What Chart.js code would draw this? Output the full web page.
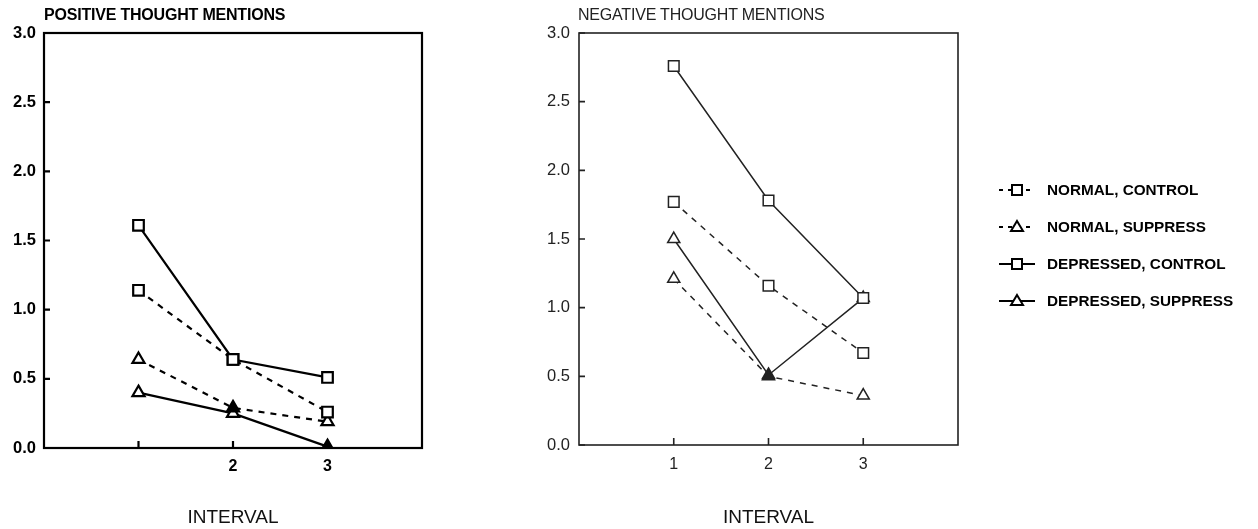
<!DOCTYPE html>
<html>
<head>
<meta charset="utf-8">
<script src="https://cdn.jsdelivr.net/npm/chart.js@4/dist/chart.umd.min.js"></script>
<style>
  body { margin: 0; background: #fff; width: 1258px; height: 529px; overflow: hidden; position: relative; font-family: "Liberation Sans", Arial, sans-serif; }
  canvas { position: absolute; top: 0; }
  .title { position: absolute; top: 6px; font-size: 16px; letter-spacing: -0.2px; }
  #legend { position: absolute; left: 995px; top: 171px; }
  .row { height: 37px; display: flex; align-items: center; font-weight: bold; font-size: 15.3px; }
  .row canvas { position: static; margin-right: 8px; }
</style>
</head>
<body>
<canvas id="chartPositive" width="500" height="529" style="left:0"></canvas>
<canvas id="chartNegative" width="480" height="529" style="left:500px"></canvas>
<div class="title" style="left:44px;font-weight:bold">POSITIVE THOUGHT MENTIONS</div>
<div class="title" style="left:578px;color:#222">NEGATIVE THOUGHT MENTIONS</div>
<div id="legend"></div>

<script>
// интервалы и значения по оси Y
const intervals = [1, 2, 3];
const xTickLabelsPositive = ['', '2', '3'];
const xTickLabelsNegative = ['1', '2', '3'];
const yTicks = [0, 0.5, 1, 1.5, 2, 2.5, 3];

const seriesNames = ['NORMAL, CONTROL', 'NORMAL, SUPPRESS', 'DEPRESSED, CONTROL', 'DEPRESSED, SUPPRESS'];

// POSITIVE THOUGHT MENTIONS
const posNormalControl = [1.14, 0.64, 0.26];
const posNormalSuppress = [0.64, 0.29, 0.19];
const posDepressedControl = [1.61, 0.64, 0.51];
const posDepressedSuppress = [0.40, 0.25, 0.01];

// NEGATIVE THOUGHT MENTIONS
const negNormalControl = [1.77, 1.16, 0.67];
const negNormalSuppress = [1.21, 0.50, 0.36];
const negDepressedControl = [2.76, 1.78, 1.07];
const negDepressedSuppress = [1.50, 0.51, 1.07];

// рамка и внутренние засечки
const framePlugin = {
    id: 'frame',
    afterDraw(chart, args, opts) {
        const ctx = chart.ctx;
        const a = chart.chartArea;
        const xs = chart.scales.x;
        const ys = chart.scales.y;
        ctx.save();
        ctx.strokeStyle = opts.color;
        ctx.lineWidth = opts.width;
        ctx.strokeRect(a.left, a.top, a.right - a.left, a.bottom - a.top);
        ctx.beginPath();
        yTicks.forEach(v => {
            const py = ys.getPixelForValue(v);
            ctx.moveTo(a.left, py);
            ctx.lineTo(a.left + 6, py);
        });
        intervals.forEach(v => {
            const px = xs.getPixelForValue(v);
            ctx.moveTo(px, a.bottom);
            ctx.lineTo(px, a.bottom - 7);
        });
        ctx.stroke();
        ctx.restore();
    }
};

function makeDataset(values, dashed, triangle, lineWidth, color, fills) {
    return {
        data: intervals.map((x, i) => ({ x: x, y: values[i] })),
        borderColor: color,
        borderWidth: lineWidth,
        borderDash: dashed ? [6, 6] : [],
        pointStyle: triangle ? 'triangle' : 'rect',
        pointRadius: triangle ? 7 : 7.5,
        pointBorderWidth: lineWidth,
        pointBorderColor: color,
        pointBackgroundColor: fills || '#fff',
        tension: 0
    };
}

function makeChart(id, datasets, cfg) {
    return new Chart(document.getElementById(id), {
        type: 'line',
        data: { datasets: datasets },
        plugins: [framePlugin],
        options: {
            responsive: false,
            animation: false,
            layout: { padding: { left: 0, right: cfg.padRight, top: 33, bottom: 0 } },
            plugins: {
                legend: { display: false },
                tooltip: { enabled: false },
                frame: { color: cfg.color, width: cfg.frameWidth }
            },
            scales: {
                x: {
                    type: 'linear', min: 0, max: 4,
                    afterBuildTicks: s => { s.ticks = intervals.map(v => ({ value: v })); },
                    afterFit: s => { s.height = cfg.xHeight; },
                    grid: { display: false, drawTicks: false },
                    border: { display: false },
                    ticks: {
                        padding: cfg.xPad,
                        color: cfg.color,
                        font: { size: 16, weight: cfg.weight, family: 'Liberation Sans' },
                        callback: (v, i) => cfg.xLabels[intervals.indexOf(v)]
                    },
                    title: {
                        display: true, text: 'INTERVAL', color: '#111',
                        font: { size: 19, family: 'Liberation Sans' },
                        padding: { top: 0, bottom: 0 }
                    }
                },
                y: {
                    min: 0, max: 3,
                    afterBuildTicks: s => { s.ticks = yTicks.map(v => ({ value: v })); },
                    afterFit: s => { s.width = cfg.yWidth; },
                    grid: { display: false, drawTicks: false },
                    border: { display: false },
                    ticks: {
                        padding: cfg.yPad,
                        color: cfg.color,
                        font: { size: 16.5, weight: cfg.weight, family: 'Liberation Sans' },
                        callback: v => v.toFixed(1)
                    }
                }
            }
        }
    });
}

makeChart('chartPositive', [
    makeDataset(posNormalControl, true, false, 2.2, '#000'),
    makeDataset(posNormalSuppress, true, true, 2.2, '#000', ['#fff', '#000', '#fff']),
    makeDataset(posDepressedControl, false, false, 2.2, '#000'),
    makeDataset(posDepressedSuppress, false, true, 2.2, '#000', ['#fff', '#fff', '#000'])
], { padRight: 78, xHeight: 81, yWidth: 44, xPad: 9, yPad: 8, color: '#000', frameWidth: 2.2, weight: 'bold', xLabels: xTickLabelsPositive });

makeChart('chartNegative', [
    makeDataset(negNormalControl, true, false, 1.5, '#222'),
    makeDataset(negNormalSuppress, true, true, 1.5, '#222', ['#fff', '#222', '#fff']),
    makeDataset(negDepressedControl, false, false, 1.5, '#222'),
    makeDataset(negDepressedSuppress, false, true, 1.5, '#222', ['#fff', '#222', '#fff'])
], { padRight: 22, xHeight: 84, yWidth: 79, xPad: 10, yPad: 9, color: '#222', frameWidth: 1.6, weight: 'normal', xLabels: xTickLabelsNegative });

// легенда
const legend = document.getElementById('legend');
seriesNames.forEach((name, i) => {
    const row = document.createElement('div');
    row.className = 'row';
    const c = document.createElement('canvas');
    c.width = 44; c.height = 16;
    const ctx = c.getContext('2d');
    const dashed = i < 2;
    const triangle = i % 2 === 1;
    ctx.lineWidth = 2;
    ctx.strokeStyle = '#000';
    ctx.setLineDash(dashed ? [4, 5] : []);
    ctx.beginPath();
    ctx.moveTo(4, 8); ctx.lineTo(40, 8);
    ctx.stroke();
    ctx.setLineDash([]);
    ctx.fillStyle = '#fff';
    ctx.beginPath();
    if (triangle) {
        ctx.moveTo(22, 2); ctx.lineTo(28, 12); ctx.lineTo(16, 12); ctx.closePath();
    } else {
        ctx.rect(17, 3, 10, 10);
    }
    ctx.fill(); ctx.stroke();
    row.appendChild(c);
    row.appendChild(document.createTextNode(name));
    legend.appendChild(row);
});
</script>
</body>
</html>
